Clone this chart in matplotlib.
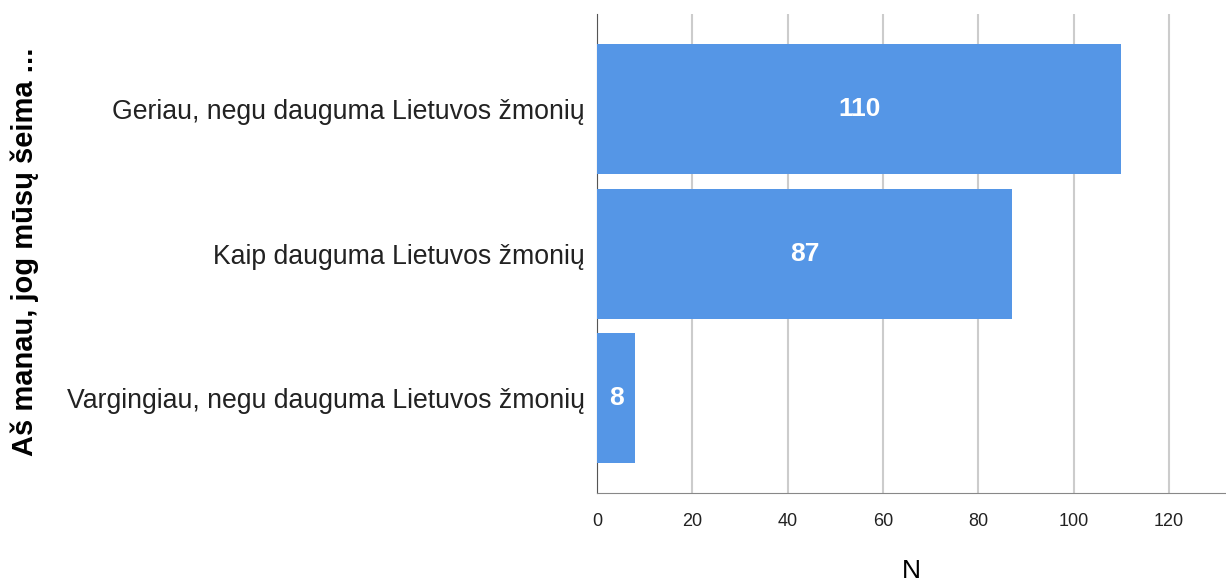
import matplotlib.pyplot as plt

categories = [
    "Geriau, negu dauguma Lietuvos žmonių",
    "Kaip dauguma Lietuvos žmonių",
    "Vargingiau, negu dauguma Lietuvos žmonių",
]
counts = [110, 87, 8]
xticks = [0, 20, 40, 60, 80, 100, 120]

plt.rcParams["font.family"] = ["Liberation Sans", "DejaVu Sans"]

fig = plt.figure(figsize=(12.26, 5.85), dpi=100)
ax = fig.add_axes([0.487, 0.157, 0.513, 0.819])

pos = list(range(len(categories)))
bars = ax.barh(pos, counts, height=0.9, color="#5596e6", zorder=3)

# white count labels in the middle of each bar
for bar, n in zip(bars, counts):
    ax.text(bar.get_width() / 2, bar.get_y() + bar.get_height() / 2, str(n),
            ha="center", va="center", color="white", fontsize=19,
            fontweight="bold", zorder=4)

ax.set_xlim(0, 132)
ax.set_ylim(2.66, -0.66)
ax.set_yticks(pos)
ax.set_yticklabels(categories, fontsize=19.2, color="#222222")
ax.set_xticks(xticks)
ax.tick_params(axis="x", labelsize=13, length=0, pad=14, labelcolor="#222222")
ax.tick_params(axis="y", length=0, pad=9)
ax.grid(axis="x", color="#cccccc", linewidth=1.5, zorder=0)

for side in ["top", "right"]:
    ax.spines[side].set_visible(False)
ax.spines["left"].set_color("#555555")
ax.spines["bottom"].set_color("#888888")

ax.set_xlabel("N", fontsize=19, labelpad=21)
fig.text(0.02, 0.57, "Aš manau, jog mūsų šeima ...", rotation=90,
         ha="center", va="center", fontsize=21, fontweight="bold")

fig.savefig("out.png", dpi=100)
